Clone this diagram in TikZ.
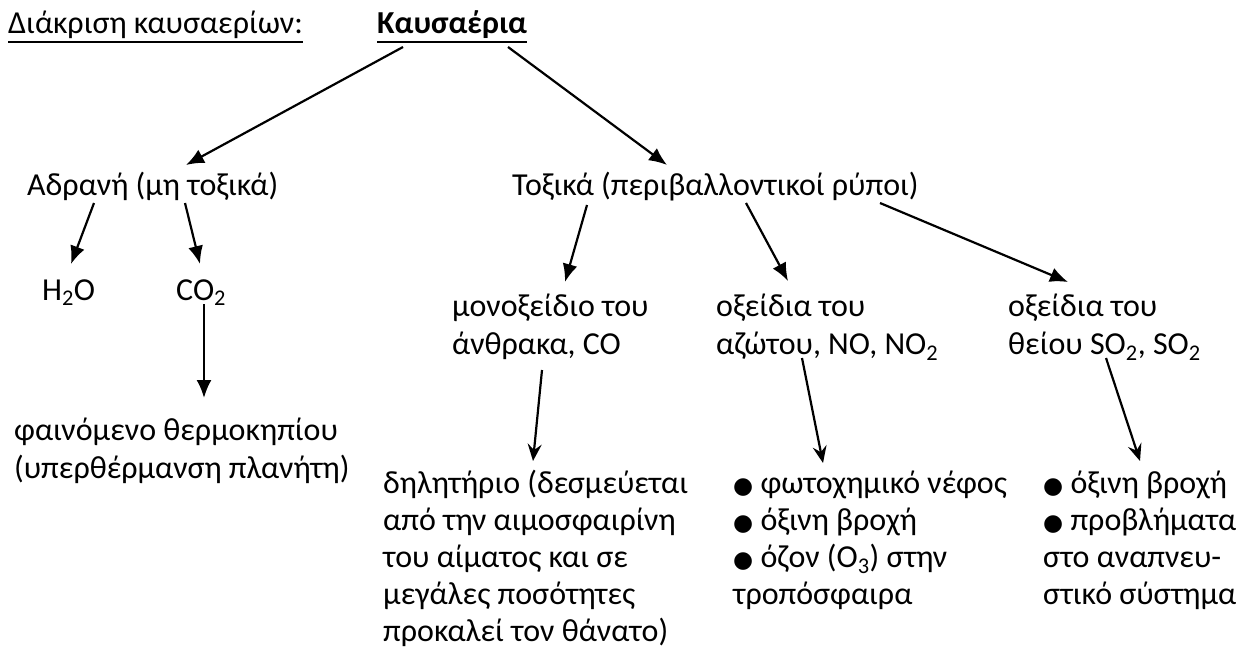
\documentclass[tikz,border=0pt]{standalone}
\usepackage{fontspec}
\setmainfont{Carlito}
\newfontfamily\dejavu{DejaVu Sans}
\usepackage{tikz}
\usetikzlibrary{arrows.meta}

\tikzset{
  txt/.style={inner sep=0pt, anchor=base west, font=\fontsize{32}{38}\selectfont},
  blk/.style={inner sep=0pt, anchor=north west, align=left, font=\fontsize{32}{38}\selectfont},
  lst/.style={inner sep=0pt, anchor=north west, align=left, font=\fontsize{32}{37}\selectfont},
  arr/.style={line width=2.2pt, -{Latex[length=18pt,width=15pt]}},
  arrb/.style={line width=2.2pt, -{Stealth[length=17pt,width=14pt,inset=6pt]}},
  uline/.style={line width=2pt}
}
\newcommand{\bul}{{\dejavu\fontsize{23}{23}\selectfont ●}}

\begin{document}
\begin{tikzpicture}[x=1pt, y=-1pt]
    \useasboundingbox (0,0) rectangle (1238,654);

    % Επικεφαλίδα
    \node[txt] (diak) at (8,33) {Διάκριση καυσαερίων:};
    \node[txt, font=\fontsize{32}{38}\selectfont\bfseries] (kaus) at (377,33) {Καυσαέρια};
    \draw[uline] ([yshift=-9pt]diak.base west) -- ([yshift=-9pt]diak.base east);
    \draw[uline] ([yshift=-9pt]kaus.base west) -- ([yshift=-9pt]kaus.base east);

    % Πρώτο επίπεδο
    \node[txt] (adr) at (27,195) {Αδρανή (μη τοξικά)};
    \node[txt] (tox) at (512,195) {Τοξικά (περιβαλλοντικοί ρύποι)};
    \draw[arr] ([shift={(26,14)}]kaus.base west) -- ([shift={(159,-30)}]adr.base west);
    \draw[arr] ([shift={(131,14)}]kaus.base west) -- ([shift={(155,-30)}]tox.base west);

    % Αδρανή
    \node[txt] (h2o) at (42,300) {H\textsubscript{2}O};
    \node[txt] (co2) at (176,300) {CO\textsubscript{2}};
    \node[blk] (therm) at (14,414) {\strut φαινόμενο θερμοκηπίου\\(υπερθέρμανση πλανήτη)};
    \draw[arr] ([shift={(67,8)}]adr.base west) -- ([shift={(29,-36)}]h2o.base west);
    \draw[arr] ([shift={(158,8)}]adr.base west) -- ([shift={(24,-36)}]co2.base west);
    \draw[arr] ([shift={(28,4)}]co2.base west) -- ([shift={(190,-16)}]therm.north west);

    % Τοξικά
    \node[blk] (co) at (452,290) {\strut μονοξείδιο του\\άνθρακα, CO};
    \node[blk] (nox) at (716,290) {\strut οξείδια του\\αζώτου, NO, NO\textsubscript{2}};
    \node[blk] (sox) at (1008,290) {\strut οξείδια του\\θείου SO\textsubscript{2}, SO\textsubscript{2}};
    \draw[arr] ([shift={(75,10)}]tox.base west) -- ([shift={(113,-8)}]co.north west);
    \draw[arr] ([shift={(234,8)}]tox.base west) -- ([shift={(72,-9)}]nox.north west);
    \draw[arr] ([shift={(368,8)}]tox.base west) -- ([shift={(60,-8)}]sox.north west);

    % Επιπτώσεις
    \node[lst] (pois) at (383,467) {\strut δηλητήριο (δεσμεύεται\\από την αιμοσφαιρίνη\\του αίματος και σε\\μεγάλες ποσότητες\\προκαλεί τον θάνατο)};
    \node[lst] (smog) at (733,467) {\strut\bul{} φωτοχημικό νέφος\\\bul{} όξινη βροχή\\\bul{} όζον (O\textsubscript{3}) στην\\τροπόσφαιρα};
    \node[lst] (resp) at (1043,467) {\strut\bul{} όξινη βροχή\\\bul{} προβλήματα\\στο αναπνευ-\\στικό σύστημα};
    \draw[arrb] ([shift={(90,80)}]co.north west) -- ([shift={(150,-6)}]pois.north west);
    \draw[arrb] ([shift={(86,68)}]nox.north west) -- ([shift={(90,-4)}]smog.north west);
    \draw[arrb] ([shift={(98,68)}]sox.north west) -- ([shift={(97,-6)}]resp.north west);
\end{tikzpicture}
\end{document}
